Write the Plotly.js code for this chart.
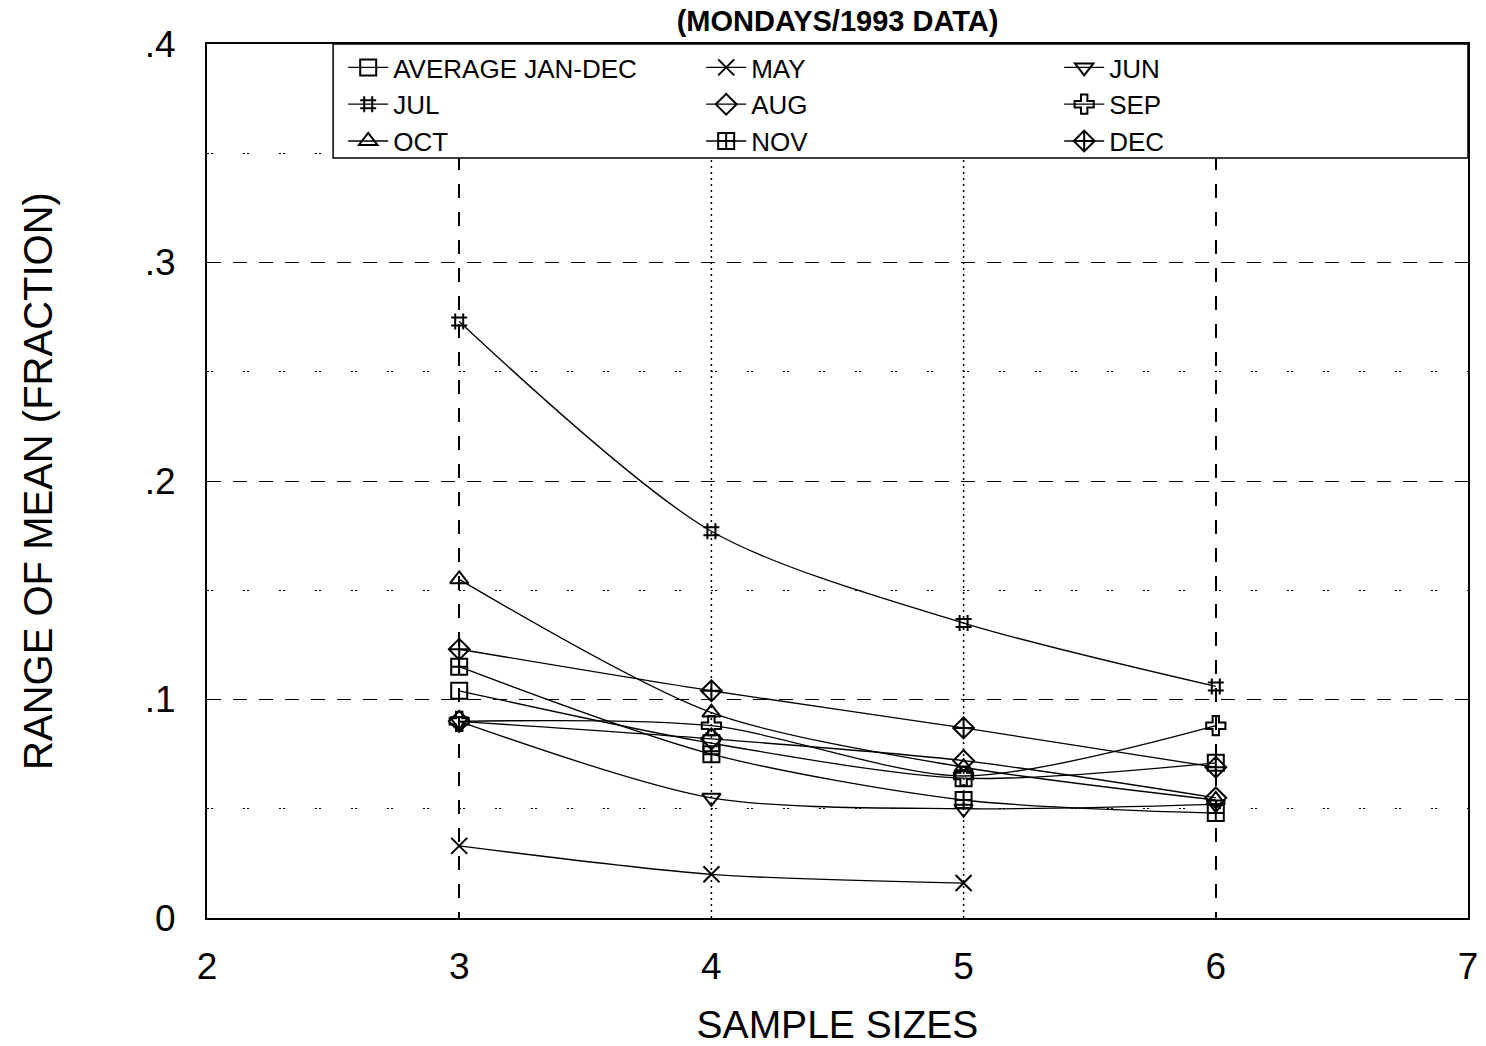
<!DOCTYPE html>
<html>
<head>
<meta charset="utf-8">
<script src="https://cdn.plot.ly/plotly-3.0.1.min.js"></script>
<style>html,body{margin:0;padding:0;background:#fff;}#chart{width:1486px;height:1046px;}</style>
</head>
<body>
<div id="chart"></div>
<script>
const sampleSizes = [3, 4, 5, 6];
const avgJanDec = [0.104, 0.080, 0.064, 0.071];
const may       = [0.033, 0.020, 0.016];
const jun       = [0.090, 0.055, 0.050, 0.052];
const jul       = [0.273, 0.177, 0.135, 0.106];
const aug       = [0.090, 0.082, 0.072, 0.055];
const sep       = [0.090, 0.088, 0.065, 0.088];
const oct       = [0.155, 0.094, 0.069, 0.054];
const nov       = [0.115, 0.075, 0.054, 0.048];
const dec       = [0.123, 0.104, 0.087, 0.069];

const seriesNames = ['AVERAGE JAN-DEC','MAY','JUN','JUL','AUG','SEP','OCT','NOV','DEC'];
const seriesData  = [avgJanDec, may, jun, jul, aug, sep, oct, nov, dec];
const symbols = ['square-open','x-thin-open','triangle-down-open','hash-open','diamond-open','cross-open','triangle-up-open','square-cross-open','diamond-cross-open'];

const yTickVals = [0, 0.1, 0.2, 0.3, 0.4];
const yTickText = ['0', '.1', '.2', '.3', '.4'];
const yMinorVals = [0.05, 0.15, 0.25, 0.35];
const xTickVals = [2, 3, 4, 5, 6, 7];
const xDashedGrid = [3, 6];
const xDottedGrid = [4, 5];

const FONT = 'Liberation Sans, Arial, sans-serif';

const traces = seriesData.map((ys, i) => ({
  type: 'scatter',
  mode: 'lines+markers',
  name: seriesNames[i],
  x: sampleSizes.slice(0, ys.length),
  y: ys,
  line: {color: '#000', width: 1.3, shape: 'spline', smoothing: 0.8},
  marker: {symbol: symbols[i], size: 16, color: '#000', line: {color: '#000', width: 2}}
}));

const shapes = xDottedGrid.map(v => ({
  type: 'line', xref: 'x', yref: 'paper', x0: v, x1: v, y0: 0, y1: 1, layer: 'below',
  line: {color: '#000', width: 1.5, dash: '2px,4px'}
}));
// legend box (white panel framed in black, covering the top of the grid)
shapes.push({
  type: 'rect', xref: 'paper', yref: 'paper', x0: 0.1, x1: 1, y0: 1 - 114/874, y1: 1,
  layer: 'above', fillcolor: '#fff', line: {color: '#000', width: 1.5}
});

const layout = {
  width: 1486, height: 1046,
  paper_bgcolor: '#fff', plot_bgcolor: '#fff',
  margin: {l: 207, r: 18, t: 44, b: 128},
  font: {family: FONT, color: '#000'},
  showlegend: true,
  title: {text: '(MONDAYS/1993 DATA)', font: {size: 29, family: FONT, color: '#000', weight: 'bold'},
          x: 0.5, xref: 'paper', y: 1 - 21/1046, yref: 'container', yanchor: 'middle'},
  xaxis: {
    range: [2, 7], tickvals: xTickVals, ticks: '', ticklabelstandoff: 15,
    tickfont: {size: 37, family: FONT},
    showline: true, mirror: true, linecolor: '#000', linewidth: 2,
    showgrid: false, zeroline: false,
    minor: {tickvals: xDashedGrid, showgrid: true, gridcolor: '#000', gridwidth: 1.5, griddash: '14px,14px', ticks: ''},
    title: {text: 'SAMPLE SIZES', font: {size: 39, family: FONT}, standoff: 40}
  },
  yaxis: {
    range: [0, 0.4], tickvals: yTickVals, ticktext: yTickText, ticks: '', ticklabelstandoff: 22,
    tickfont: {size: 37, family: FONT},
    showline: true, mirror: true, linecolor: '#000', linewidth: 2,
    showgrid: true, gridcolor: '#000', gridwidth: 1, griddash: '14px,12px',
    zeroline: false,
    minor: {tickvals: yMinorVals, showgrid: true, gridcolor: '#000', gridwidth: 1, griddash: '2px,2px,2px,30px', ticks: ''},
    title: {text: 'RANGE OF MEAN (FRACTION)', font: {size: 40, family: FONT}, standoff: 80}
  },
  legend: {
    orientation: 'h', x: 0.108, xanchor: 'left', y: 1, yanchor: 'top',
    bgcolor: 'rgba(0,0,0,0)', borderwidth: 0,
    font: {size: 26, family: FONT, color: '#000'},
    entrywidth: 303, entrywidthmode: 'pixels', itemwidth: 40,
    traceorder: 'normal'
  },
  shapes: shapes
};

Plotly.newPlot('chart', traces, layout, {displayModeBar: false, staticPlot: true});
</script>
</body>
</html>
